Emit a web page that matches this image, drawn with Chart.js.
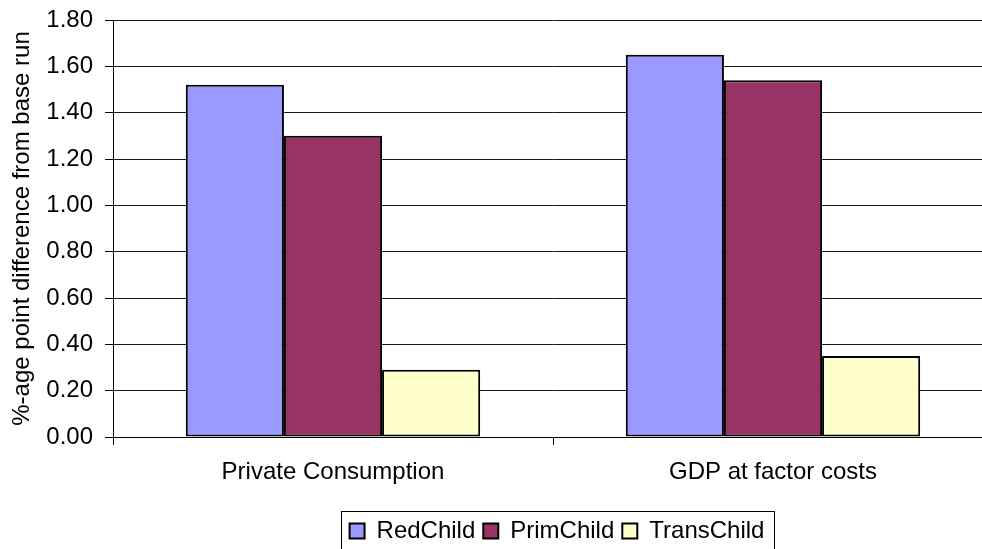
<!DOCTYPE html>
<html>
<head>
<meta charset="utf-8">
<script src="https://cdn.jsdelivr.net/npm/chart.js@4/dist/chart.umd.min.js"></script>
<style>
  html, body { margin: 0; padding: 0; overflow: hidden; background: #fff; }
  canvas { display: block; }
</style>
</head>
<body>
<canvas id="chart" width="1114" height="549"></canvas>
<script>
// Categories and series (percentage-point difference from base run)
const categories = ['Private Consumption', 'GDP at factor costs'];
const seriesNames = ['RedChild', 'PrimChild', 'TransChild'];
const redChild = [1.52, 1.65];
const primChild = [1.30, 1.54];
const transChild = [0.29, 0.35];
const seriesColors = ['#9999FF', '#993366', '#FFFFCC'];

// Value axis
const yMin = 0;
const yMax = 1.8;
const yStep = 0.2;
const yTitle = '%-age point difference from base run';

const FONT = '"Liberation Sans", Arial, Helvetica, sans-serif';
Chart.defaults.font.family = FONT;
Chart.defaults.color = '#000';

// Frame around the legend row
const legendFrame = {
  id: 'legendFrame',
  afterDraw(chart) {
    const lg = chart.legend;
    const hb = lg && lg.legendHitBoxes;
    if (!hb || !hb.length) return;
    const last = hb[hb.length - 1];
    const left = Math.round(hb[0].left - 9) + 0.5;
    const right = Math.round(last.left + last.width + 10) + 0.5;
    const top = Math.round(lg.top) + 0.5;
    const ctx = chart.ctx;
    ctx.save();
    ctx.strokeStyle = '#000';
    ctx.lineWidth = 1;
    ctx.strokeRect(left, top, right - left, chart.height);
    ctx.restore();
  }
};

const values = [redChild, primChild, transChild];
const datasets = seriesNames.map((name, i) => ({
  label: name,
  data: values[i],
  backgroundColor: seriesColors[i],
  borderColor: '#000',
  borderWidth: 2,
  borderSkipped: false,
  categoryPercentage: 0.669,
  barPercentage: 1.0
}));

new Chart(document.getElementById('chart'), {
  type: 'bar',
  data: { labels: categories, datasets },
  plugins: [legendFrame],
  options: {
    responsive: false,
    animation: false,
    devicePixelRatio: 1,
    layout: { padding: { top: 20, left: 0, right: 0, bottom: -4 } },
    plugins: {
      tooltip: { enabled: false },
      legend: {
        position: 'bottom',
        labels: {
          boxWidth: 15,
          boxHeight: 15,
          padding: 8,
          color: '#000',
          font: { size: 24, family: FONT }
        }
      }
    },
    scales: {
      x: {
        grid: {
          display: true,
          offset: true,
          drawOnChartArea: false,
          drawTicks: true,
          tickLength: 8,
          color: '#000'
        },
        border: { display: true, color: '#000', width: 1 },
        ticks: { padding: 13, color: '#000', font: { size: 24, family: FONT } },
        afterFit(s) {
          s.height = 549 - 437 - (s.chart.legend ? s.chart.legend.height : 40) + 4;
          s.paddingLeft = 0;
          s.paddingRight = 0;
        }
      },
      y: {
        min: yMin,
        max: yMax,
        grid: {
          color: '#1a1a1a',
          lineWidth: 1,
          drawTicks: true,
          tickLength: 8,
          tickColor: '#000'
        },
        border: { display: true, color: '#000', width: 1 },
        ticks: {
          stepSize: yStep,
          padding: 12,
          color: '#000',
          font: { size: 24, family: FONT },
          callback: v => Number(v).toFixed(2)
        },
        title: {
          display: true,
          text: yTitle,
          color: '#000',
          font: { size: 24, family: FONT },
          padding: { top: 8, bottom: 0 }
        },
        afterFit(s) {
          s.width = 113;
          s.paddingTop = 0;
          s.paddingBottom = 0;
        }
      },
      yRight: {
        position: 'right',
        display: true,
        grid: { display: false },
        border: { display: false },
        ticks: { display: false },
        afterFit(s) {
          s.width = 121;
          s.paddingTop = 0;
          s.paddingBottom = 0;
        }
      }
    }
  }
});
</script>
</body>
</html>
